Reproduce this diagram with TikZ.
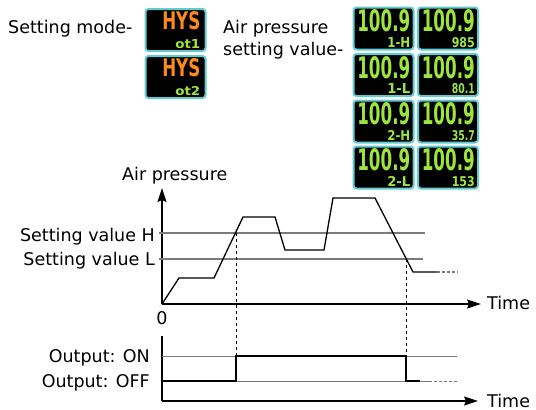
\documentclass[tikz,border=0pt]{standalone}
\usepackage{fontspec}
\setmainfont{DejaVu Sans}
\usepackage{graphicx}
\usetikzlibrary{positioning,arrows.meta}

\definecolor{lcdgreen}{HTML}{9CE53E}
\definecolor{lcdorange}{HTML}{FF8A1C}
\definecolor{lcdedge}{HTML}{5FCCD2}
\definecolor{refgray}{HTML}{7A7A7A}

\newcommand{\bigseg}[3]{\resizebox{#1}{#2}{\bfseries #3}}

\begin{document}
\begin{tikzpicture}[x=1pt,y=-1pt,
        txt/.style = {font=\fontsize{17.5}{21}\selectfont, inner sep=0},
        lcd/.style = {
            draw=lcdedge,
            line width=2pt,
            fill=black,
            rounded corners=3pt,
            minimum width=60pt,
            minimum height=42pt,
            inner sep=0
        },
        digits/.style = {inner sep=0, text=lcdgreen},
        axis/.style = {line width=1.2pt, -{Stealth[length=14pt,width=9pt,inset=2pt]}},
        refline/.style = {refgray, line width=1.2pt},
        curve/.style = {line width=1.3pt, line join=miter},
        guide/.style = {line width=0.9pt, dash pattern=on 3pt off 3pt}
    ]
    \useasboundingbox (0,0) rectangle (536,410);

    % setting mode displays
    \node[txt, anchor=base west] (modelbl) at (8,33) {Setting mode-};
    \node[lcd] (m1) at (175.5,30) {};
    \node[lcd] (m2) at (175.5,77) {};
    \foreach \m/\s in {m1/ot1, m2/ot2} {
        \node[digits, text=lcdorange, anchor=north east] (\m big) at ([xshift=-6pt,yshift=-3pt]\m.north east) {\bigseg{38pt}{18pt}{HYS}};
        \node[digits, anchor=south east] (\m small) at ([xshift=-6pt,yshift=3pt]\m.south east) {\bigseg{25pt}{9pt}{\s}};
    }

    % air pressure displays
    \node[txt, anchor=base west] (airlbl) at (223,33.5) {Air pressure};
    \node[txt, anchor=base west] (setlbl) at (223,55) {setting value-};
    \foreach \r/\y/\a/\b in {1/28.5/1-H/985, 2/75/1-L/80.1, 3/121.5/2-H/35.7, 4/167.5/2-L/153} {
        \node[lcd] (d\r a) at (383.5,\y) {};
        \node[lcd] (d\r b) at (448,\y) {};
        \foreach \c/\t in {a/\a, b/\b} {
            \node[digits, anchor=north east] (n\r\c) at ([xshift=-4pt,yshift=-3pt]d\r\c.north east) {\bigseg{53pt}{22pt}{100.9}};
            \node[digits, anchor=south east] (s\r\c) at ([xshift=-4pt,yshift=3pt]d\r\c.south east) {\bigseg{23pt}{10pt}{\t}};
        }
    }

    % air pressure chart
    \coordinate (o1) at (162,304);
    \coordinate (ytop) at (162,188);
    \coordinate (xend) at (481,304);
    \draw[axis] (o1) -- (ytop);
    \draw[axis] (o1) -- (xend);
    \node[txt, anchor=base west] (plbl) at (122,180) {Air pressure};
    \node[txt, anchor=base west] (t1lbl) at (487,309.5) {Time};
    \node[txt, anchor=base] (zero) at (162,324.5) {0};

    \coordinate (hs) at (159,233);
    \coordinate (he) at (425,233);
    \coordinate (ls) at (159,259);
    \coordinate (le) at (423,259);
    \draw[refline] (hs) -- (he);
    \draw[refline] (ls) -- (le);
    \node[txt, anchor=base east] (hlbl) at (155,241) {Setting value H};
    \node[txt, anchor=base east] (llbl) at (155,265.5) {Setting value L};

    \draw[curve] (o1) -- (179,278) -- (214,278) -- (243,217) -- (275,217)
        -- (285,250) -- (324,250) -- (333,198) -- (375,198) -- (413,272)
        -- (437,272) coordinate (pend);
    \coordinate (pdash) at (458,272);
    \draw[refline, dash pattern=on 3pt off 2pt] (pend) -- (pdash);

    % output chart
    \coordinate (o2) at (162,401);
    \coordinate (y2top) at (162,336);
    \coordinate (x2end) at (478,401);
    \draw[line width=1.2pt] (o2) -- (y2top);
    \draw[axis] (o2) -- (x2end);
    \node[txt, anchor=base west] (t2lbl) at (487,407) {Time};

    \coordinate (ons) at (162,356);
    \coordinate (one) at (457,356);
    \coordinate (offs) at (162,381);
    \coordinate (offm) at (429,381);
    \coordinate (offe) at (457,381);
    \draw[refline, line width=1pt] (ons) -- (one);
    \draw[refline, line width=1pt] (offs) -- (offm);
    \draw[refline, line width=1pt, dash pattern=on 3pt off 2pt] (offm) -- (offe);
    \node[txt, anchor=base east] (onlbl) at (150,362) {Output: ON};
    \node[txt, anchor=base east] (offlbl) at (150,387) {Output: OFF};

    \coordinate (up) at (236,356);
    \coordinate (down) at (406,356);
    \draw[curve] (offs) -- (236,381) -- (up) -- (down) -- (406,381) -- (420,381);

    % switching points
    \coordinate (cH) at (236,233);
    \coordinate (cL) at (406,259);
    \draw[guide] (cH) -- (up);
    \draw[guide] (cL) -- (down);
\end{tikzpicture}
\end{document}
